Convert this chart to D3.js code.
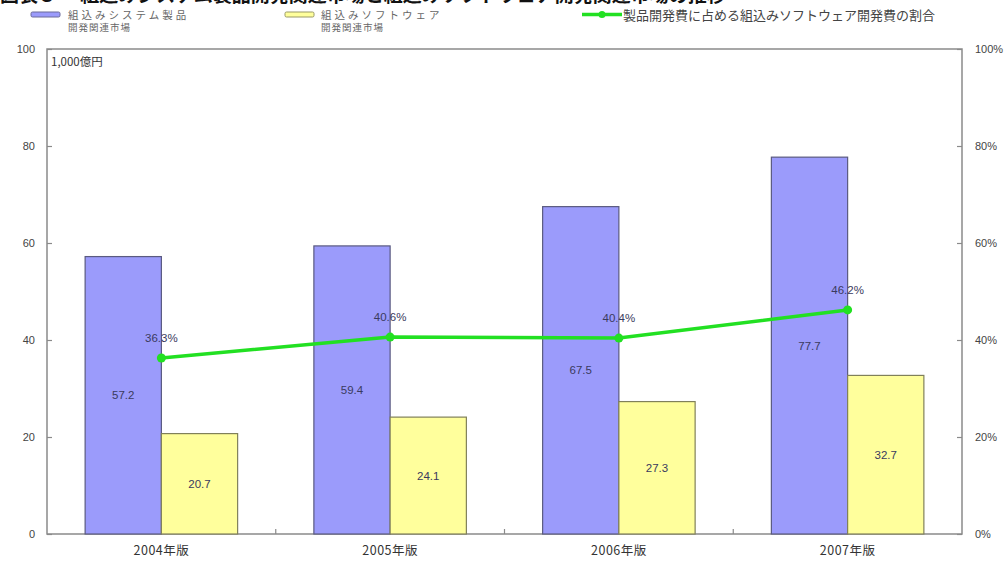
<!DOCTYPE html>
<html>
<head>
<meta charset="utf-8">
<script src="https://cdn.jsdelivr.net/npm/d3@7"></script>
<style>
  body { margin: 0; background: #fff; }
  svg { display: block; }
  text { font-family: "Noto Sans CJK JP", "Noto Sans", sans-serif; }
</style>
</head>
<body>
<svg id="chart" width="1006" height="562"></svg>
<script>

// data
var categories = ['2004年版', '2005年版', '2006年版', '2007年版'];
var systemMarket = [57.2, 59.4, 67.5, 77.7];
var softwareMarket = [20.7, 24.1, 27.3, 32.7];
var softwareRatio = [36.3, 40.6, 40.4, 46.2];
var leftTicks = [0, 20, 40, 60, 80, 100];
var rightTicks = [0, 20, 40, 60, 80, 100];

var chart_vars = {
  'left': 47,
  'right': 962,
  'top': 49,
  'bottom': 534,
  'blue': '#9b9bfb',
  'yellow': '#ffff9c',
  'green': '#22e022',
  'label': '#3a3a5e'
};

var svg = d3.select('svg#chart');

// title, cut off at the top edge in the original
svg.append('text')
  .attr('x', 0).attr('y', 2)
  .style('font-size', '19px').style('font-weight', 'bold').style('fill', '#111')
  .text('図表５ ・組込みシステム製品開発関連市場と組込みソフトウェア開発関連市場の推移');

var x0 = d3.scaleBand().domain(categories).range([chart_vars.left, chart_vars.right]).padding(0);
var x1 = d3.scaleBand().domain(['sys', 'sw']).range([0, x0.bandwidth()]).paddingInner(0).paddingOuter(0.5);
var yScale = d3.scaleLinear().domain([0, 100]).range([chart_vars.bottom, chart_vars.top]);
var yRight = d3.scaleLinear().domain([0, 100]).range([chart_vars.bottom, chart_vars.top]);

// legend
var legend = svg.append('g').attr('class', 'legend');
legend.append('rect').attr('x', 31).attr('y', 12).attr('width', 29).attr('height', 5).attr('rx', 1.5)
  .style('fill', chart_vars.blue).style('stroke', '#6a6a99');
legend.append('text').attr('x', 68).attr('y', 18.5).style('font-size', '10.5px').style('fill', '#666').style('letter-spacing', '3px').text('組込みシステム製品');
legend.append('text').attr('x', 68).attr('y', 31).style('font-size', '9.5px').style('fill', '#666').style('letter-spacing', '1px').text('開発関連市場');

legend.append('rect').attr('x', 285).attr('y', 12).attr('width', 29).attr('height', 5).attr('rx', 1.5)
  .style('fill', chart_vars.yellow).style('stroke', '#999966');
legend.append('text').attr('x', 321).attr('y', 18.5).style('font-size', '10.5px').style('fill', '#666').style('letter-spacing', '3px').text('組込みソフトウェア');
legend.append('text').attr('x', 321).attr('y', 31).style('font-size', '9.5px').style('fill', '#666').style('letter-spacing', '1px').text('開発関連市場');

legend.append('line').attr('x1', 582).attr('x2', 622).attr('y1', 14.5).attr('y2', 14.5)
  .style('stroke', chart_vars.green).style('stroke-width', 3.5);
legend.append('circle').attr('cx', 602).attr('cy', 14.5).attr('r', 3.5).style('fill', chart_vars.green);
legend.append('text').attr('x', 623).attr('y', 19.5).style('font-size', '13px').style('fill', '#444').text('製品開発費に占める組込みソフトウェア開発費の割合');

// plot box
svg.append('rect')
  .attr('x', chart_vars.left).attr('y', chart_vars.top)
  .attr('width', chart_vars.right - chart_vars.left).attr('height', chart_vars.bottom - chart_vars.top)
  .style('fill', 'none').style('stroke', '#8a8a8a').style('stroke-width', 1.5);

// axes
var axis_left = d3.axisRight(yScale).tickValues(leftTicks).tickSize(5).tickFormat(function(d) { return d; });
var gLeft = svg.append('g').attr('class', 'axis axis--y')
  .attr('transform', 'translate(' + chart_vars.left + ',0)')
  .call(axis_left);
gLeft.selectAll('text').attr('x', -12).style('text-anchor', 'end');

var axis_right = d3.axisLeft(yRight).tickValues(rightTicks).tickSize(5).tickFormat(function(d) { return d + '%'; });
var gRight = svg.append('g').attr('class', 'axis axis--y2')
  .attr('transform', 'translate(' + chart_vars.right + ',0)')
  .call(axis_right);
gRight.selectAll('text').attr('x', 13).style('text-anchor', 'start');

var axis_bottom = d3.axisBottom(x0).tickSize(0).tickPadding(12);
var gBottom = svg.append('g').attr('class', 'axis axis--x')
  .attr('transform', 'translate(0,' + chart_vars.bottom + ')')
  .call(axis_bottom);
gBottom.selectAll('text').style('font-size', '12.5px').style('fill', '#333').style('letter-spacing', '0.5px');

// boundary ticks between categories
gBottom.selectAll('line.sep')
  .data(categories.slice(1))
  .enter().append('line').attr('class', 'sep')
  .attr('x1', function(d) { return x0(d); }).attr('x2', function(d) { return x0(d); })
  .attr('y1', 0).attr('y2', -5);

svg.selectAll('.axis path').remove();
svg.selectAll('.axis line').style('stroke', '#8a8a8a').style('stroke-width', 1.2);
svg.selectAll('.axis--y text, .axis--y2 text').style('font-size', '11px').style('fill', '#444').style('font-family', 'Liberation Sans, Arial, sans-serif');

svg.append('text').attr('x', 51).attr('y', 66).style('font-size', '11.5px').style('fill', '#333').text('1,000億円');

// bars
var g_inner = svg.append('g').attr('class', 'innerGraph');
var barData = categories.map(function(c, i) {
  return [{cat: c, key: 'sys', value: systemMarket[i]}, {cat: c, key: 'sw', value: softwareMarket[i]}];
});

var groups = g_inner.selectAll('g.group')
  .data(barData)
  .enter().append('g').attr('class', 'group')
  .attr('transform', function(d) { return 'translate(' + x0(d[0].cat) + ',0)'; });

groups.selectAll('rect')
  .data(function(d) { return d; })
  .enter().append('rect')
  .attr('x', function(d) { return x1(d.key); })
  .attr('y', function(d) { return yScale(d.value); })
  .attr('width', x1.bandwidth())
  .attr('height', function(d) { return chart_vars.bottom - yScale(d.value); })
  .style('fill', function(d) { return d.key == 'sys' ? chart_vars.blue : chart_vars.yellow; })
  .style('stroke', function(d) { return d.key == 'sys' ? '#5a5a80' : '#80805a'; })
  .style('stroke-width', 1.2);

groups.selectAll('text')
  .data(function(d) { return d; })
  .enter().append('text')
  .attr('x', function(d) { return x1(d.key) + x1.bandwidth() / 2; })
  .attr('y', function(d) { return (yScale(d.value) + chart_vars.bottom) / 2 + 4; })
  .style('text-anchor', 'middle').style('font-size', '11.5px').style('fill', chart_vars.label)
  .style('font-family', 'Liberation Sans, Arial, sans-serif')
  .text(function(d) { return d.value; });

// ratio line
var ratioData = categories.map(function(c, i) { return {x_value: c, y_value: softwareRatio[i]}; });
var line = d3.line()
  .x(function(d) { return x0(d.x_value) + x0.bandwidth() / 2; })
  .y(function(d) { return yRight(d.y_value); });

svg.append('path')
  .datum(ratioData)
  .attr('d', line)
  .style('fill', 'none').style('stroke', chart_vars.green).style('stroke-width', 3.5);

svg.selectAll('circle.pt')
  .data(ratioData)
  .enter().append('circle').attr('class', 'pt')
  .attr('cx', function(d) { return x0(d.x_value) + x0.bandwidth() / 2; })
  .attr('cy', function(d) { return yRight(d.y_value); })
  .attr('r', 4.5)
  .style('fill', chart_vars.green);

svg.selectAll('text.pct')
  .data(ratioData)
  .enter().append('text').attr('class', 'pct')
  .attr('x', function(d) { return x0(d.x_value) + x0.bandwidth() / 2; })
  .attr('y', function(d) { return yRight(d.y_value) - 16; })
  .style('text-anchor', 'middle').style('font-size', '11.5px').style('fill', chart_vars.label)
  .style('font-family', 'Liberation Sans, Arial, sans-serif')
  .text(function(d) { return d.y_value + '%'; });

</script>
</body>
</html>
